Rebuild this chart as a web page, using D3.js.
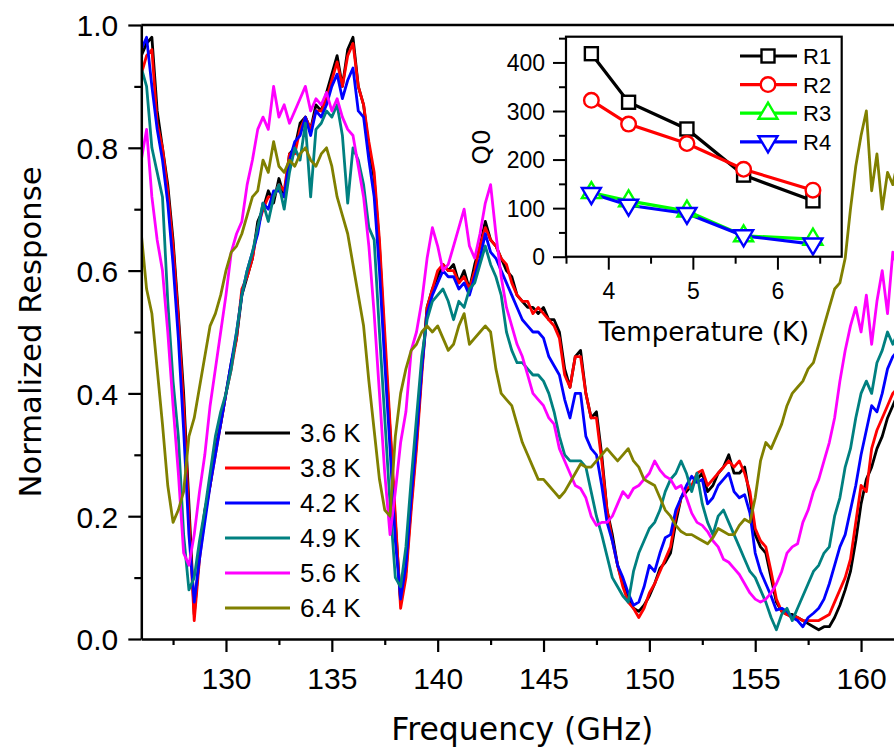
<!DOCTYPE html>
<html><head><meta charset="utf-8">
<script src="https://cdn.jsdelivr.net/npm/d3@7/dist/d3.min.js"></script>
<style>body{margin:0;background:#fff}</style>
</head><body>
<svg id="c" width="894" height="747"></svg>
<script>
// ---- main chart data: normalized response sampled every 0.25 GHz from 126 GHz ----
const freqStart = 126, freqStep = 0.25;
const s36 = [0.95,0.97,0.98,0.86,0.80,0.74,0.65,0.53,0.40,0.22,
0.04,0.14,0.21,0.25,0.31,0.35,0.40,0.45,0.49,0.56,
0.59,0.62,0.68,0.70,0.73,0.71,0.75,0.72,0.79,0.80,
0.84,0.85,0.83,0.87,0.86,0.89,0.92,0.95,0.90,0.96,
0.98,0.90,0.87,0.80,0.75,0.64,0.48,0.34,0.19,0.06,
0.11,0.22,0.32,0.44,0.54,0.57,0.59,0.61,0.60,0.61,
0.58,0.60,0.57,0.61,0.64,0.68,0.65,0.64,0.62,0.60,
0.59,0.56,0.55,0.54,0.54,0.53,0.54,0.52,0.52,0.50,
0.44,0.41,0.46,0.47,0.40,0.36,0.37,0.30,0.21,0.17,
0.12,0.09,0.065,0.05,0.045,0.055,0.07,0.09,0.115,0.125,
0.14,0.19,0.23,0.24,0.25,0.26,0.27,0.24,0.25,0.27,
0.28,0.30,0.27,0.27,0.28,0.23,0.17,0.15,0.14,0.10,
0.06,0.045,0.04,0.04,0.035,0.03,0.025,0.02,0.015,0.02,
0.02,0.035,0.055,0.08,0.11,0.16,0.22,0.26,0.28,0.31,
0.33,0.36,0.38,0.40,0.41];
const s38 = [0.92,0.95,0.96,0.84,0.80,0.73,0.64,0.52,0.38,0.20,
0.03,0.13,0.20,0.25,0.30,0.35,0.40,0.44,0.49,0.57,
0.59,0.62,0.67,0.70,0.72,0.72,0.74,0.73,0.79,0.79,
0.83,0.85,0.83,0.86,0.86,0.88,0.91,0.94,0.90,0.95,
0.97,0.90,0.87,0.81,0.76,0.65,0.50,0.35,0.20,0.05,
0.10,0.21,0.31,0.43,0.54,0.57,0.60,0.61,0.60,0.60,
0.58,0.59,0.57,0.60,0.64,0.67,0.65,0.64,0.62,0.61,
0.58,0.56,0.55,0.55,0.53,0.54,0.53,0.52,0.51,0.49,
0.43,0.41,0.46,0.46,0.40,0.36,0.36,0.29,0.21,0.16,
0.12,0.085,0.06,0.05,0.035,0.05,0.075,0.09,0.11,0.13,
0.15,0.20,0.23,0.245,0.25,0.27,0.275,0.25,0.26,0.27,
0.28,0.29,0.28,0.29,0.27,0.24,0.18,0.16,0.15,0.11,
0.065,0.045,0.04,0.035,0.035,0.03,0.03,0.03,0.03,0.035,
0.04,0.06,0.08,0.10,0.13,0.19,0.25,0.24,0.31,0.34,
0.36,0.38,0.40,0.41,0.42];
const s42 = [0.96,0.98,0.90,0.83,0.78,0.71,0.61,0.49,0.34,0.17,
0.06,0.13,0.19,0.25,0.30,0.35,0.40,0.45,0.50,0.56,
0.60,0.63,0.66,0.71,0.70,0.73,0.73,0.72,0.78,0.81,
0.82,0.85,0.82,0.86,0.85,0.87,0.90,0.92,0.88,0.91,
0.93,0.86,0.85,0.78,0.72,0.60,0.45,0.31,0.16,0.065,
0.12,0.23,0.33,0.44,0.53,0.56,0.58,0.60,0.59,0.59,
0.57,0.58,0.56,0.59,0.62,0.66,0.63,0.62,0.60,0.58,
0.56,0.54,0.52,0.51,0.50,0.50,0.49,0.46,0.445,0.43,
0.39,0.36,0.40,0.40,0.33,0.31,0.30,0.25,0.19,0.16,
0.12,0.10,0.075,0.055,0.06,0.085,0.12,0.11,0.14,0.165,
0.17,0.21,0.23,0.25,0.265,0.255,0.26,0.22,0.23,0.25,
0.26,0.27,0.24,0.23,0.235,0.205,0.14,0.11,0.09,0.07,
0.047,0.05,0.045,0.035,0.03,0.02,0.035,0.042,0.05,0.065,
0.09,0.12,0.15,0.17,0.21,0.25,0.30,0.34,0.38,0.37,
0.40,0.44,0.46,0.47,0.48];
const s49 = [0.93,0.90,0.80,0.76,0.72,0.55,0.42,0.33,0.17,0.08,
0.10,0.16,0.21,0.27,0.33,0.37,0.40,0.44,0.50,0.56,
0.60,0.63,0.67,0.71,0.68,0.72,0.74,0.70,0.76,0.80,
0.78,0.84,0.72,0.83,0.84,0.86,0.85,0.87,0.82,0.71,
0.80,0.78,0.74,0.67,0.65,0.50,0.36,0.22,0.10,0.085,
0.15,0.26,0.36,0.46,0.52,0.55,0.56,0.57,0.55,0.52,
0.55,0.54,0.57,0.58,0.61,0.64,0.61,0.59,0.56,0.50,
0.47,0.45,0.45,0.44,0.43,0.43,0.42,0.40,0.37,0.33,
0.30,0.29,0.29,0.29,0.28,0.24,0.20,0.17,0.135,0.10,
0.085,0.07,0.06,0.11,0.14,0.16,0.18,0.19,0.21,0.24,
0.26,0.27,0.29,0.27,0.24,0.27,0.22,0.19,0.17,0.20,
0.21,0.19,0.17,0.15,0.13,0.11,0.10,0.08,0.06,0.035,
0.015,0.04,0.05,0.03,0.05,0.07,0.09,0.11,0.12,0.14,
0.15,0.20,0.23,0.28,0.31,0.36,0.40,0.42,0.40,0.45,
0.47,0.50,0.48,0.50,0.51];
const s56 = [0.78,0.83,0.72,0.65,0.60,0.50,0.38,0.27,0.14,0.12,
0.17,0.24,0.30,0.38,0.44,0.50,0.56,0.63,0.66,0.68,
0.74,0.78,0.83,0.85,0.83,0.90,0.85,0.87,0.84,0.86,
0.88,0.90,0.86,0.88,0.87,0.89,0.86,0.88,0.85,0.83,
0.82,0.77,0.72,0.64,0.53,0.40,0.27,0.17,0.24,0.32,
0.37,0.47,0.50,0.55,0.62,0.67,0.64,0.60,0.61,0.64,
0.67,0.70,0.64,0.62,0.66,0.71,0.74,0.66,0.59,0.54,
0.51,0.48,0.46,0.43,0.40,0.39,0.38,0.36,0.35,0.31,
0.29,0.27,0.25,0.245,0.23,0.20,0.185,0.19,0.19,0.20,
0.22,0.24,0.23,0.245,0.25,0.26,0.27,0.29,0.275,0.265,
0.26,0.245,0.25,0.23,0.205,0.19,0.185,0.175,0.16,0.15,
0.13,0.125,0.115,0.105,0.09,0.075,0.065,0.06,0.065,0.075,
0.09,0.11,0.14,0.15,0.155,0.19,0.21,0.24,0.26,0.29,
0.32,0.36,0.42,0.47,0.51,0.54,0.50,0.56,0.48,0.55,
0.60,0.53,0.63,0.60,0.62];
const s64 = [0.66,0.57,0.53,0.44,0.35,0.25,0.19,0.21,0.24,0.33,
0.36,0.41,0.46,0.51,0.53,0.56,0.60,0.63,0.64,0.66,
0.69,0.72,0.73,0.78,0.76,0.81,0.77,0.76,0.78,0.77,
0.79,0.80,0.78,0.77,0.79,0.80,0.77,0.72,0.69,0.66,
0.61,0.56,0.51,0.42,0.34,0.26,0.21,0.20,0.33,0.40,
0.44,0.47,0.48,0.50,0.51,0.50,0.51,0.49,0.47,0.48,
0.51,0.53,0.48,0.49,0.50,0.51,0.50,0.44,0.40,0.39,
0.38,0.35,0.32,0.30,0.28,0.26,0.26,0.25,0.24,0.23,
0.24,0.255,0.27,0.285,0.28,0.28,0.29,0.30,0.31,0.30,
0.29,0.30,0.31,0.29,0.28,0.26,0.255,0.25,0.23,0.21,
0.20,0.185,0.175,0.17,0.17,0.165,0.16,0.155,0.165,0.18,
0.175,0.17,0.17,0.185,0.195,0.19,0.23,0.29,0.32,0.31,
0.33,0.35,0.38,0.40,0.41,0.42,0.44,0.45,0.48,0.51,
0.54,0.57,0.58,0.62,0.70,0.77,0.82,0.86,0.73,0.79,
0.70,0.76,0.74,0.78,0.80];
const seriesNames = ["3.6 K","3.8 K","4.2 K","4.9 K","5.6 K","6.4 K"];
const seriesColors = ["#000000","#ff0000","#0000ff","#008080","#ff00ff","#808000"];
const seriesValues = [s36,s38,s42,s49,s56,s64];
const xMajorTicks = [130,135,140,145,150,155,160];
const xMinorTicks = [127.5,132.5,137.5,142.5,147.5,152.5,157.5];
const yMajorTicks = [0,0.2,0.4,0.6,0.8,1.0];
const yMinorTicks = [0.1,0.3,0.5,0.7,0.9];

// ---- inset data: Q0 vs temperature ----
const insetTemps = [3.8,4.24,4.93,5.6,6.42];
const qR1 = [418,318,263,168,115];
const qR2 = [322,273,233,180,137];
const qR3 = [132,115,94,43,36];
const qR4 = [130,106,89,43,26];
const insetNames = ["R1","R2","R3","R4"];
const insetColors = ["#000000","#ff0000","#00ff00","#0000ff"];
const insetShapes = ["square","circle","triUp","triDown"];
const insetValues = [qR1,qR2,qR3,qR4];
const insetXMajor = [4,5,6], insetXMinor = [3.5,4.5,5.5,6.5];
const insetYMajor = [0,100,200,300,400], insetYMinor = [50,150,250,350,450];

const svg = d3.select("#c");
svg.append("rect").attr("width",894).attr("height",747).attr("fill","#fff");
const tickFont = "'Liberation Sans', Arial, sans-serif";
const titleFont = "'DejaVu Sans', Verdana, sans-serif";

// ---- main scales ----
const x = d3.scaleLinear().domain([126,162]).range([141.3,903.4]);
const y = d3.scaleLinear().domain([0,1]).range([639,25]);

svg.append("clipPath").attr("id","plotclip").append("rect")
  .attr("x",x(126)).attr("y",y(1)-2).attr("width",x(162)-x(126)).attr("height",y(0)-y(1)+2);

const freqs = s36.map((_,i)=>freqStart+i*freqStep);
const line = d3.line().x((d,i)=>x(freqs[i])).y(d=>y(d));
const gLines = svg.append("g").attr("clip-path","url(#plotclip)");
seriesValues.forEach((vals,k)=>{
  gLines.append("path").attr("d",line(vals)).attr("fill","none")
    .attr("stroke",seriesColors[k]).attr("stroke-width",2.8).attr("stroke-linejoin","round");
});

// frame top
svg.append("line").attr("x1",x(126)).attr("x2",x(162)).attr("y1",y(1)).attr("y2",y(1))
  .attr("stroke","#000").attr("stroke-width",2.5);

function styleAxis(g, fs){
  g.select(".domain").attr("stroke-width",2.5);
  g.selectAll(".tick line").attr("stroke-width",2.2);
  g.selectAll("text").attr("font-family",tickFont).attr("font-size",fs).attr("fill","#000");
}
// x axis
const gx = svg.append("g").attr("transform",`translate(0,${y(0)})`)
  .call(d3.axisBottom(x).tickValues(xMajorTicks).tickSize(13).tickSizeOuter(0).tickFormat(d3.format("d")));
styleAxis(gx,30);
gx.selectAll("text").attr("y",30).attr("dy","0.71em").attr("y",29);
const gxm = svg.append("g").attr("transform",`translate(0,${y(0)})`)
  .call(d3.axisBottom(x).tickValues(xMinorTicks).tickSize(6).tickFormat(""));
gxm.select(".domain").remove(); gxm.selectAll(".tick line").attr("stroke-width",2.2);
// y axis
const gy = svg.append("g").attr("transform",`translate(${x(126)},0)`)
  .call(d3.axisLeft(y).tickValues(yMajorTicks).tickSize(13).tickSizeOuter(0).tickFormat(d3.format(".1f")));
styleAxis(gy,30);
gy.selectAll("text").attr("x",-23).attr("dy","0.36em");
const gym = svg.append("g").attr("transform",`translate(${x(126)},0)`)
  .call(d3.axisLeft(y).tickValues(yMinorTicks).tickSize(7).tickFormat(""));
gym.select(".domain").remove(); gym.selectAll(".tick line").attr("stroke-width",2.2);

// axis titles
svg.append("text").attr("x",(x(126)+x(162))/2).attr("y",740).attr("text-anchor","middle")
  .attr("font-family",titleFont).attr("font-size",31.5).text("Frequency (GHz)");
svg.append("text").attr("transform",`translate(41,${(y(0)+y(1))/2}) rotate(-90)`).attr("text-anchor","middle")
  .attr("font-family",titleFont).attr("font-size",30.7).text("Normalized Response");

// main legend
const lg = svg.append("g");
seriesNames.forEach((n,k)=>{
  const yy = 433 + k*35;
  lg.append("line").attr("x1",225).attr("x2",290).attr("y1",yy).attr("y2",yy)
    .attr("stroke",seriesColors[k]).attr("stroke-width",2.8);
  lg.append("text").attr("x",300).attr("y",yy).attr("dy","0.36em")
    .attr("font-family",tickFont).attr("font-size",26).text(n);
});

// ---- inset ----
const ix = d3.scaleLinear().domain([3.5,6.76]).range([566,841.7]);
const iy = d3.scaleLinear().domain([0,453]).range([256.7,36.7]);
svg.append("rect").attr("x",566).attr("y",36.7).attr("width",841.7-566).attr("height",220)
  .attr("fill","#fff").attr("stroke","none");

function marker(g, shape, cx, cy, color){
  let el;
  if(shape==="square"){
    el = g.append("rect").attr("x",cx-6.5).attr("y",cy-6.5).attr("width",13).attr("height",13);
  } else if(shape==="circle"){
    el = g.append("circle").attr("cx",cx).attr("cy",cy).attr("r",7.3);
  } else if(shape==="triUp"){
    el = g.append("path").attr("d",`M${cx},${cy-10.5}L${cx+9.5},${cy+5.5}L${cx-9.5},${cy+5.5}Z`);
  } else {
    el = g.append("path").attr("d",`M${cx},${cy+10.5}L${cx+9.5},${cy-5.5}L${cx-9.5},${cy-5.5}Z`);
  }
  el.attr("fill","#fff").attr("stroke",color).attr("stroke-width",2.4);
}
const ig = svg.append("g");
const iline = d3.line().x((d,i)=>ix(insetTemps[i])).y(d=>iy(d));
insetValues.forEach((vals,k)=>{
  ig.append("path").attr("d",iline(vals)).attr("fill","none")
    .attr("stroke",insetColors[k]).attr("stroke-width",3.2);
});
insetValues.forEach((vals,k)=>{
  vals.forEach((v,i)=>marker(ig, insetShapes[k], ix(insetTemps[i]), iy(v), insetColors[k]));
});
svg.append("rect").attr("x",566).attr("y",36.7).attr("width",841.7-566).attr("height",220)
  .attr("fill","none").attr("stroke","#000").attr("stroke-width",2.2);

const igx = svg.append("g").attr("transform","translate(0,256.7)")
  .call(d3.axisBottom(ix).tickValues(insetXMajor).tickSize(13).tickSizeOuter(0).tickFormat(d3.format("d")));
igx.select(".domain").remove();
igx.selectAll(".tick line").attr("stroke-width",2);
igx.selectAll("text").attr("font-family",tickFont).attr("font-size",23).attr("y",26).attr("dy","0.71em");
const igxm = svg.append("g").attr("transform","translate(0,256.7)")
  .call(d3.axisBottom(ix).tickValues(insetXMinor).tickSize(7).tickFormat(""));
igxm.select(".domain").remove(); igxm.selectAll(".tick line").attr("stroke-width",2);
const igy = svg.append("g").attr("transform","translate(566,0)")
  .call(d3.axisLeft(iy).tickValues(insetYMajor).tickSize(13).tickSizeOuter(0).tickFormat(d3.format("d")));
igy.select(".domain").remove();
igy.selectAll(".tick line").attr("stroke-width",2);
igy.selectAll("text").attr("font-family",tickFont).attr("font-size",23).attr("x",-21).attr("dy","0.36em");
const igym = svg.append("g").attr("transform","translate(566,0)")
  .call(d3.axisLeft(iy).tickValues(insetYMinor.filter(v=>v<=453)).tickSize(7).tickFormat(""));
igym.select(".domain").remove(); igym.selectAll(".tick line").attr("stroke-width",2);

svg.append("text").attr("x",704).attr("y",341).attr("text-anchor","middle")
  .attr("font-family",titleFont).attr("font-size",26).text("Temperature (K)");
svg.append("text").attr("transform","translate(490,147) rotate(-90)").attr("text-anchor","middle")
  .attr("font-family",titleFont).attr("font-size",25).text("Q0");

// inset legend
const ilg = svg.append("g");
insetNames.forEach((n,k)=>{
  const yy = 56 + k*28.6;
  ilg.append("line").attr("x1",740).attr("x2",797).attr("y1",yy).attr("y2",yy)
    .attr("stroke",insetColors[k]).attr("stroke-width",3.2);
  marker(ilg, insetShapes[k], 768, yy, insetColors[k]);
  ilg.append("text").attr("x",803).attr("y",yy).attr("dy","0.36em")
    .attr("font-family",tickFont).attr("font-size",22).text(n);
});
</script>
</body></html>
